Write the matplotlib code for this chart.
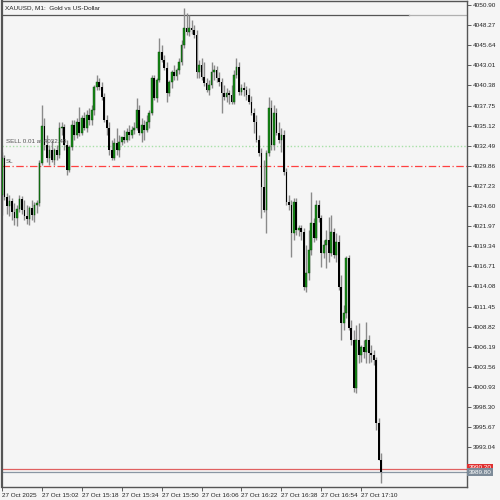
import numpy as np
import matplotlib.pyplot as plt

plt.rcParams["font.family"] = ["Liberation Sans", "DejaVu Sans"]

# XAUUSD M1 candles, 27 Oct 2025 from 14:46 to 17:18
opens = [4026.04, 4030.88, 4025.78, 4024.61, 4025.26, 4023.82, 4023.04, 4024.21, 4025.52, 4024.08,
         4023.30, 4022.90, 4024.34, 4023.43, 4024.74, 4025.00, 4030.23, 4035.07, 4032.58, 4030.88,
         4031.93, 4030.62, 4031.93, 4031.28, 4034.81, 4034.94, 4032.58, 4029.31, 4032.32, 4035.20,
         4033.89, 4035.59, 4034.15, 4036.12, 4034.81, 4036.51, 4035.85, 4037.16, 4040.17, 4040.83,
         4040.17, 4038.86, 4035.85, 4034.81, 4031.93, 4030.88, 4032.85, 4031.93, 4032.98, 4033.63,
         4033.24, 4034.28, 4033.89, 4034.55, 4034.81, 4037.16, 4034.15, 4035.20, 4034.55, 4035.59,
         4036.77, 4041.35, 4038.73, 4041.09, 4044.75, 4043.70, 4042.66, 4039.39, 4040.83, 4042.13,
         4041.61, 4042.39, 4043.44, 4045.67, 4047.89, 4047.36, 4047.89, 4047.63, 4046.97, 4042.13,
         4043.05, 4041.48, 4040.69, 4039.78, 4040.43, 4042.13, 4042.39, 4041.35, 4040.83, 4039.39,
         4038.86, 4039.39, 4039.12, 4038.21, 4041.74, 4042.79, 4039.52, 4040.04, 4039.78, 4039.12,
         4038.21, 4036.77, 4035.59, 4033.24, 4031.54, 4027.09, 4024.08, 4031.54, 4037.42, 4032.58,
         4036.77, 4034.15, 4033.24, 4033.89, 4029.05, 4025.13, 4024.74, 4021.07, 4025.13, 4021.47,
         4021.73, 4021.20, 4014.01, 4015.84, 4018.85, 4022.38, 4020.42, 4024.74, 4023.04, 4018.46,
         4019.50, 4020.16, 4018.46, 4021.20, 4018.20, 4019.90, 4014.01, 4009.30, 4010.61, 4017.80,
         4008.65, 4007.08, 4000.80, 4007.08, 4005.12, 4006.16, 4005.51, 4007.08, 4005.38, 4005.12,
         4004.46, 3996.22, 3991.38]
highs = [4031.67, 4031.28, 4026.31, 4026.04, 4025.65, 4025.00, 4024.74, 4026.04, 4025.91, 4025.39,
         4024.74, 4024.61, 4025.39, 4025.13, 4025.39, 4030.62, 4037.82, 4036.12, 4033.89, 4032.58,
         4033.24, 4032.19, 4032.58, 4035.59, 4035.59, 4035.33, 4033.24, 4032.58, 4035.85, 4035.85,
         4036.12, 4037.55, 4036.51, 4036.90, 4037.16, 4037.42, 4037.82, 4040.43, 4041.74, 4041.35,
         4040.83, 4039.39, 4036.51, 4035.59, 4033.24, 4033.50, 4034.81, 4033.89, 4033.63, 4034.55,
         4034.81, 4035.20, 4035.07, 4035.59, 4038.73, 4037.82, 4036.12, 4035.85, 4036.51, 4037.16,
         4041.74, 4041.74, 4041.35, 4046.58, 4045.67, 4044.36, 4043.44, 4041.09, 4042.39, 4043.05,
         4042.66, 4043.96, 4046.32, 4050.50, 4049.85, 4049.59, 4048.93, 4048.28, 4047.63, 4043.70,
         4043.96, 4043.44, 4041.35, 4041.09, 4043.44, 4043.05, 4042.92, 4042.13, 4041.35, 4040.43,
         4040.04, 4039.78, 4040.43, 4042.39, 4043.96, 4043.44, 4040.56, 4040.83, 4040.30, 4040.04,
         4038.99, 4037.42, 4036.51, 4033.89, 4032.19, 4030.62, 4031.93, 4038.86, 4038.47, 4037.82,
         4037.42, 4035.59, 4034.81, 4034.55, 4029.57, 4026.04, 4025.39, 4025.65, 4025.65, 4022.12,
         4022.12, 4021.73, 4019.50, 4021.47, 4026.44, 4023.04, 4025.39, 4025.39, 4023.43, 4020.16,
         4021.47, 4023.17, 4023.43, 4021.73, 4021.07, 4020.81, 4015.58, 4011.66, 4018.07, 4018.20,
         4009.69, 4008.39, 4009.04, 4009.30, 4006.42, 4007.08, 4009.43, 4007.73, 4006.42, 4005.77,
         4004.85, 3996.88, 3992.30]
lows = [4023.43, 4025.39, 4023.56, 4023.30, 4022.77, 4022.12, 4021.99, 4023.82, 4023.56, 4022.77,
        4022.25, 4022.12, 4022.77, 4022.51, 4023.69, 4024.61, 4029.97, 4031.93, 4030.36, 4029.97,
        4030.36, 4029.97, 4030.62, 4030.88, 4033.89, 4031.93, 4028.66, 4029.05, 4031.93, 4033.24,
        4033.50, 4033.76, 4033.89, 4034.55, 4034.28, 4035.20, 4035.20, 4036.51, 4039.78, 4039.78,
        4038.47, 4035.59, 4033.89, 4031.28, 4030.62, 4030.62, 4031.28, 4031.01, 4032.58, 4032.85,
        4032.98, 4033.24, 4033.50, 4034.02, 4034.55, 4033.89, 4032.98, 4033.24, 4034.28, 4034.81,
        4036.51, 4038.47, 4038.21, 4040.83, 4043.44, 4042.39, 4038.21, 4038.99, 4040.04, 4041.09,
        4041.09, 4041.87, 4043.05, 4045.27, 4046.97, 4046.84, 4047.10, 4046.58, 4041.35, 4041.35,
        4041.09, 4040.30, 4039.52, 4039.12, 4040.04, 4041.09, 4040.83, 4040.30, 4036.77, 4038.47,
        4038.21, 4037.95, 4037.95, 4037.95, 4041.35, 4039.12, 4039.12, 4038.99, 4038.47, 4037.95,
        4036.51, 4034.15, 4032.98, 4031.15, 4023.04, 4023.82, 4021.07, 4031.15, 4031.93, 4031.93,
        4033.89, 4032.85, 4031.67, 4028.66, 4024.74, 4024.08, 4017.93, 4020.16, 4020.81, 4020.68,
        4020.16, 4013.62, 4013.36, 4014.93, 4018.20, 4019.90, 4020.16, 4022.51, 4016.63, 4017.80,
        4016.49, 4017.28, 4018.07, 4017.80, 4017.28, 4013.62, 4007.08, 4008.39, 4009.96, 4008.39,
        4006.42, 4000.28, 4000.15, 4004.07, 4004.20, 4004.72, 4004.07, 4004.07, 4004.20, 4003.81,
        3995.31, 3991.38, 3988.37]
closes = [4030.88, 4025.78, 4024.61, 4025.26, 4023.82, 4023.04, 4024.21, 4025.52, 4024.08, 4023.30,
          4022.90, 4024.34, 4023.43, 4024.74, 4025.00, 4030.23, 4035.07, 4032.58, 4030.88, 4031.93,
          4030.62, 4031.93, 4031.28, 4034.81, 4034.94, 4032.58, 4029.31, 4032.32, 4035.20, 4033.89,
          4035.59, 4034.15, 4036.12, 4034.81, 4036.51, 4035.85, 4037.16, 4040.17, 4040.83, 4040.17,
          4038.86, 4035.85, 4034.81, 4031.93, 4030.88, 4032.85, 4031.93, 4032.98, 4033.63, 4033.24,
          4034.28, 4033.89, 4034.55, 4034.81, 4037.16, 4034.15, 4035.20, 4034.55, 4035.59, 4036.77,
          4041.35, 4038.73, 4041.09, 4044.75, 4043.70, 4042.66, 4039.39, 4040.83, 4042.13, 4041.61,
          4042.39, 4043.44, 4045.67, 4047.89, 4047.36, 4047.89, 4047.63, 4046.97, 4042.13, 4043.05,
          4041.48, 4040.69, 4039.78, 4040.43, 4042.13, 4042.39, 4041.35, 4040.83, 4039.39, 4038.86,
          4039.39, 4039.12, 4038.21, 4041.74, 4042.79, 4039.52, 4040.04, 4039.78, 4039.12, 4038.21,
          4036.77, 4035.59, 4033.24, 4031.54, 4027.09, 4024.08, 4031.54, 4037.42, 4032.58, 4036.77,
          4034.15, 4033.24, 4033.89, 4029.05, 4025.13, 4024.74, 4021.07, 4025.13, 4021.47, 4021.73,
          4021.20, 4014.01, 4015.84, 4018.85, 4022.38, 4020.42, 4024.74, 4023.04, 4018.46, 4019.50,
          4020.16, 4018.46, 4021.20, 4018.20, 4019.90, 4014.01, 4009.30, 4010.61, 4017.80, 4008.65,
          4007.08, 4000.80, 4007.08, 4005.12, 4006.16, 4005.51, 4007.08, 4005.38, 4005.12, 4004.46,
          3996.22, 3991.38, 3989.80]

time_labels = ["27 Oct 2025", "27 Oct 15:02", "27 Oct 15:18", "27 Oct 15:34", "27 Oct 15:50",
               "27 Oct 16:06", "27 Oct 16:22", "27 Oct 16:38", "27 Oct 16:54", "27 Oct 17:10"]
price_ticks = [4050.90, 4048.27, 4045.64, 4043.01, 4040.38, 4037.75, 4035.12, 4032.49, 4029.86,
               4027.23, 4024.60, 4021.97, 4019.34, 4016.71, 4014.08, 4011.45, 4008.82, 4006.19,
               4003.56, 4000.93, 3998.30, 3995.67, 3993.04]

sell_price = 4032.49
sl_price = 4029.86
bid = 3989.80
ask = 3990.20

bg = "#f5f5f5"
o = np.array(opens)
h = np.array(highs)
l = np.array(lows)
c = np.array(closes)
x = np.arange(len(o))

fig = plt.figure(figsize=(5, 5), dpi=100, facecolor=bg)
ax = fig.add_axes([0.004, 0.026, 0.93, 0.972])
ax.set_facecolor(bg)

# wicks then bodies
ax.vlines(x, l, h, color="#8a8a8a", lw=1.0, zorder=2)
up = c >= o
body_lo = np.minimum(o, c)
body_h = np.maximum(np.abs(c - o), 0.12)
ax.bar(x[up], body_h[up], bottom=body_lo[up], width=0.7, color="#168c16",
       edgecolor="#0a3d0a", linewidth=0.3, zorder=3)
ax.bar(x[~up], body_h[~up], bottom=body_lo[~up], width=0.7, color="black", zorder=3)

# trade / price lines
ax.axhline(sell_price, color="#a8e0a8", lw=1.0, ls=(0, (1, 1.5)), zorder=1)
ax.axhline(sl_price, color="#ff4040", lw=0.9, ls=(0, (6, 2, 1, 2)), zorder=1)
ax.axhline(ask, color="#e06060", lw=0.9, zorder=1)
ax.axhline(bid, color="#8a96a3", lw=0.9, zorder=1)
ax.plot([-5, 163], [4049.55, 4049.55], color="#555555", lw=0.9, zorder=1)
ax.plot([163, 200], [4049.55, 4049.55], color="#b0b0b0", lw=0.9, zorder=1)

ax.text(1.5, sell_price + 0.25, "SELL 0.01 at 4032.49", fontsize=4.5, color="#555555",
        va="bottom", ha="left")
ax.text(1.5, sl_price + 0.25, "SL", fontsize=4.5, color="#555555", va="bottom", ha="left")
ax.text(0.006, 0.987, "XAUUSD, M1:  Gold vs US-Dollar", transform=ax.transAxes,
        fontsize=4.6, color="#222222", va="center", ha="left")

ax.set_xlim(0.3, 186.4)
ax.set_ylim(3987.85, 4051.42)

ax.yaxis.tick_right()
ax.set_yticks(price_ticks)
ax.set_yticklabels([f"{p:.2f}" for p in price_ticks])
ax.set_xticks(np.arange(0, 145, 16))
ax.set_xticklabels(time_labels, ha="left")
ax.tick_params(axis="both", labelsize=4.6, length=3, width=0.6, color="#444444",
               labelcolor="#222222", pad=1)

for s in ax.spines.values():
    s.set_color("#555555")
    s.set_linewidth(1.0)
ax.spines["left"].set_linewidth(1.6)

# current price labels on the right (bid box covers the ask box)
ax.text(1.003, ask + 0.15, "3990.20", transform=ax.get_yaxis_transform(), fontsize=4.6,
        color="white", va="center", ha="left",
        bbox=dict(boxstyle="square,pad=0.2", fc="#e03030", ec="none"))
ax.text(1.003, bid, f"{bid:.2f}", transform=ax.get_yaxis_transform(), fontsize=4.6,
        color="white", va="center", ha="left",
        bbox=dict(boxstyle="square,pad=0.2", fc="#7d8b99", ec="none"))

fig.savefig("out.png", dpi=100, facecolor=bg)
